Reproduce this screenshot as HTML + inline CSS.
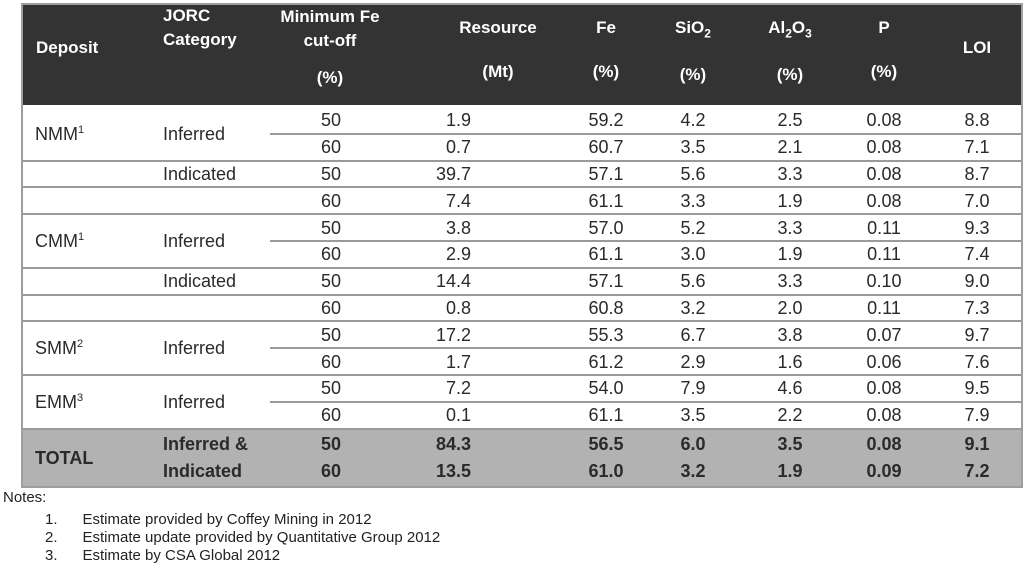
<!DOCTYPE html>
<html><head><meta charset="utf-8">
<style>
html,body{margin:0;padding:0;background:#fff;width:1024px;height:575px;overflow:hidden;font-family:"Liberation Sans",sans-serif;color:#2a2a2a}
#wrap{position:absolute;left:0;top:0;width:1024px;height:575px}
.abs{position:absolute}
.hdr{color:#fff;font-weight:bold;font-size:17px;text-align:center;line-height:21px}
.cell{font-size:18px;line-height:20px;white-space:nowrap}
.line{position:absolute;background:#9a9a9a;height:2px}
.note{position:absolute;font-size:15px;color:#222}
</style></head><body>
<div id="wrap">
  <div class="abs" style="left:21px;top:3px;width:1002px;height:485px;border:2px solid #9e9e9e;box-sizing:border-box;background:#fff"></div>
  <div class="abs" style="left:23px;top:5px;width:998px;height:100px;background:#333"></div>
  <div class="abs" style="left:23px;top:430px;width:998px;height:56px;background:#b2b2b2"></div>

  <div class="abs hdr" style="left:36px;top:37px;text-align:left">Deposit</div>
  <div class="abs hdr" style="left:163px;top:4px;text-align:left;line-height:24px">JORC<br>Category</div>
  <div class="abs hdr" style="left:265px;top:5px;width:130px;line-height:24px">Minimum Fe<br>cut-off<br><span style="display:block;margin-top:13px">(%)</span></div>
  <div class="abs hdr" style="left:448px;top:17px;width:100px">Resource<br><span style="display:block;margin-top:23px">(Mt)</span></div>
  <div class="abs hdr" style="left:566px;top:17px;width:80px">Fe<br><span style="display:block;margin-top:23px">(%)</span></div>
  <div class="abs hdr" style="left:653px;top:17px;width:80px">SiO<sub style="font-size:12px">2</sub><br><span style="display:block;margin-top:20px">(%)</span></div>
  <div class="abs hdr" style="left:750px;top:17px;width:80px">Al<sub style="font-size:12px">2</sub>O<sub style="font-size:12px">3</sub><br><span style="display:block;margin-top:20px">(%)</span></div>
  <div class="abs hdr" style="left:844px;top:17px;width:80px">P<br><span style="display:block;margin-top:23px">(%)</span></div>
  <div class="abs hdr" style="left:937px;top:37px;width:80px">LOI</div>

  <div id="rows"></div>

  <div class="note" style="left:3px;top:489px">Notes:</div>
  <div class="note" style="left:45px;top:511px">1.&nbsp;&nbsp;&nbsp;&nbsp;&nbsp;&nbsp;Estimate provided by Coffey Mining in 2012</div>
  <div class="note" style="left:45px;top:529px">2.&nbsp;&nbsp;&nbsp;&nbsp;&nbsp;&nbsp;Estimate update provided by Quantitative Group 2012</div>
  <div class="note" style="left:45px;top:547px">3.&nbsp;&nbsp;&nbsp;&nbsp;&nbsp;&nbsp;Estimate by CSA Global 2012</div>
</div>
<script>
const cutoffs=["50","60","50","60","50","60","50","60","50","60","50","60","50","60"];
const resource=["1.9","0.7","39.7","7.4","3.8","2.9","14.4","0.8","17.2","1.7","7.2","0.1","84.3","13.5"];
const fe=["59.2","60.7","57.1","61.1","57.0","61.1","57.1","60.8","55.3","61.2","54.0","61.1","56.5","61.0"];
const sio2=["4.2","3.5","5.6","3.3","5.2","3.0","5.6","3.2","6.7","2.9","7.9","3.5","6.0","3.2"];
const al2o3=["2.5","2.1","3.3","1.9","3.3","1.9","3.3","2.0","3.8","1.6","4.6","2.2","3.5","1.9"];
const pval=["0.08","0.08","0.08","0.08","0.11","0.11","0.10","0.11","0.07","0.06","0.08","0.08","0.08","0.09"];
const loi=["8.8","7.1","8.7","7.0","9.3","7.4","9.0","7.3","9.7","7.6","9.5","7.9","9.1","7.2"];
// line after each row: 0 none, 1 partial, 2 full
const sep=[1,2,2,2,1,2,2,2,1,2,1,2,0,0];
const rowsEl=document.getElementById('rows');
const top0=107,rh=26.8,totalTop=430,totalRh=27.5;
function rowY(i){return i<12?top0+i*rh:totalTop+(i-12)*totalRh;}
function rowH(i){return i<12?rh:totalRh;}
function addText(txt,x,y,h,align,w,bold){
  const d=document.createElement('div');
  d.className='abs cell';
  
  
  d.style.top=(y+(h-20)/2)+'px';
  if(align==='left'){d.style.left=x+'px';}
  else if(align==='right'){d.style.left=(x-w)+'px';d.style.width=w+'px';d.style.textAlign='right';}
  else{d.style.left=(x-w/2)+'px';d.style.width=w+'px';d.style.textAlign='center';}
  if(bold)d.style.fontWeight='bold';
  d.innerHTML=txt;
  rowsEl.appendChild(d);
}
const cols=[[cutoffs,331,'center'],[resource,471,'right'],[fe,606,'center'],[sio2,693,'center'],[al2o3,790,'center'],[pval,884,'center'],[loi,977,'center']];
for(let i=0;i<cutoffs.length;i++){
  const y=rowY(i),h=rowH(i),b=i>=12;
  cols.forEach(c=>addText(c[0][i],c[1],y,h,c[2],70,b));
  if(sep[i]){
    const l=document.createElement('div');
    l.className='line';
    
    
    const x0=sep[i]===1?270:23;
    l.style.left=x0+'px';l.style.width=(1021-x0)+'px';
    l.style.top=(y+h-1)+'px';
    rowsEl.appendChild(l);
  }
}
// left labels
const deposits=[["NMM<sup style='font-size:11px'>1</sup>",0],["CMM<sup style='font-size:11px'>1</sup>",4],["SMM<sup style='font-size:11px'>2</sup>",8],["EMM<sup style='font-size:11px'>3</sup>",10]];
deposits.forEach(d=>addText(d[0],35,rowY(d[1])+rh/2-4,rh,'left',0,false));
const cats=[["Inferred",0,2],["Indicated",2,1],["Inferred",4,2],["Indicated",6,1],["Inferred",8,2],["Inferred",10,2]];
cats.forEach(c=>addText(c[0],163,rowY(c[1]),rh*c[2],'left',0,false));
addText("TOTAL",35,totalTop,totalRh*2,'left',0,true);
addText("Inferred &amp;",163,totalTop,totalRh,'left',0,true);
addText("Indicated",163,totalTop+totalRh,totalRh,'left',0,true);
</script>
</body></html>
